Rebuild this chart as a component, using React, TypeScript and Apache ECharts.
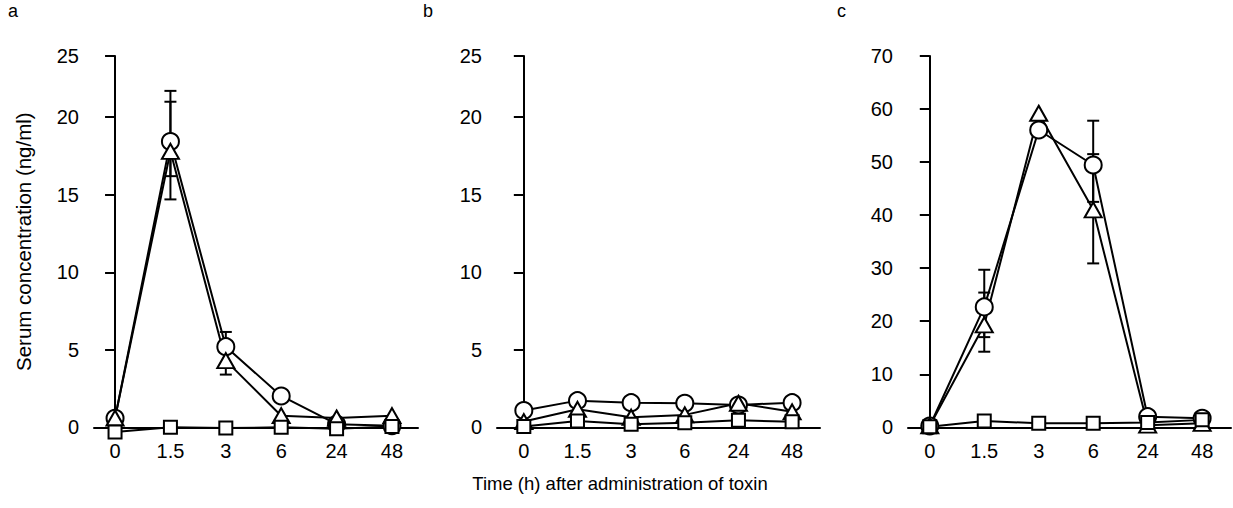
import React, { useEffect, useRef } from 'react';
import * as echarts from 'echarts';

// time points (h)
const timeLabels = ['0', '1.5', '3', '6', '24', '48'];

// Panel a
const circleA = [0.58, 18.43, 5.2, 2.02, 0.2, 0.1];
const triangleA = [0.6, 17.8, 4.3, 0.75, 0.6, 0.75];
const squareA = [-0.3, 0, -0.05, 0, -0.1, 0.05];
// [time index, low, high]
const errBarsA = [[1, 14.7, 21.7], [1, 16.2, 21.0], [2, 3.4, 6.15]];

// Panel b
const circleB = [1.08, 1.72, 1.59, 1.55, 1.44, 1.59];
const triangleB = [0.37, 1.16, 0.65, 0.8, 1.55, 1.0];
const squareB = [0.05, 0.4, 0.2, 0.3, 0.45, 0.35];
const errBarsB: number[][] = [];

// Panel c
const circleC = [0.25, 22.7, 56.05, 49.45, 2.0, 1.7];
const triangleC = [0.3, 19.3, 59.2, 41.0, 0.4, 0.75];
const squareC = [0.1, 1.2, 0.75, 0.75, 0.9, 1.4];
const errBarsC = [[1, 14.25, 25.4], [1, 17.0, 29.7], [3, 30.9, 51.5], [3, 42.5, 57.8]];

const yTicksAB = [0, 5, 10, 15, 20, 25];
const yTicksC = [0, 10, 20, 30, 40, 50, 60, 70];

const panelLetters = ['a', 'b', 'c'];
const yAxisTitle = 'Serum concentration (ng/ml)';
const xAxisTitle = 'Time (h) after administration of toxin';

const FONT = "'Liberation Sans', Arial, sans-serif";
const FS_TICK = 20;
const FS_YNAME = 20.5;
const FS_XNAME = 18.5;
const FS_LETTER = 18;
const AB_TOP = 23.95; // the reference draws its "25" tick compressed at the top of the axis

export default function App() {
  const ref = useRef<HTMLDivElement>(null);
  useEffect(() => {
    if (!ref.current) return;
    const chart = echarts.init(ref.current, undefined, { renderer: 'svg' });

    const grids = [
      { left: 94, top: 56, width: 324, height: 371.3 },
      { left: 497, top: 56, width: 323, height: 371.3 },
      { left: 908, top: 56, width: 323, height: 371.3 },
    ];
    const xRanges = [
      [-0.38, 5.47],
      [-0.5, 5.52],
      [-0.4, 5.53],
    ];
    const idx = timeLabels.map((_, i) => i);

    const axisLineStyle = { color: '#000', width: 2 };
    const labelStyle = { color: '#000', fontSize: FS_TICK, fontFamily: FONT };

    const xAxes = grids.map((_, g) => ({
      type: 'value',
      gridIndex: g,
      min: xRanges[g][0],
      max: xRanges[g][1],
      axisLine: { show: true, onZero: false, lineStyle: axisLineStyle },
      axisTick: { show: false },
      splitLine: { show: false },
      axisLabel: {
        ...labelStyle,
        margin: 14,
        customValues: idx,
        formatter: (v: number) => timeLabels[Math.round(v)] ?? '',
      },
    }));

    const abTickPos = yTicksAB.map((t) => (t === 25 ? AB_TOP : t));
    const yAxes = grids.map((_, g) => {
      const isC = g === 2;
      const ticks = isC ? yTicksC : abTickPos;
      return {
        type: 'value',
        gridIndex: g,
        min: 0,
        max: isC ? 70 : AB_TOP,
        name: g === 0 ? yAxisTitle : '',
        nameLocation: 'middle',
        nameGap: 60,
        nameRotate: 90,
        nameTextStyle: { color: '#000', fontSize: FS_YNAME, fontFamily: FONT },
        axisLine: { show: true, lineStyle: axisLineStyle },
        axisTick: { show: true, length: 10, lineStyle: axisLineStyle, customValues: ticks },
        splitLine: { show: false },
        axisLabel: {
          ...labelStyle,
          margin: 15,
          customValues: ticks,
          formatter: (v: number) => (!isC && v > 22 ? '25' : String(v)),
        },
      };
    });

    const panels = [
      { circle: circleA, triangle: triangleA, square: squareA, err: errBarsA },
      { circle: circleB, triangle: triangleB, square: squareB, err: errBarsB },
      { circle: circleC, triangle: triangleC, square: squareC, err: errBarsC },
    ];

    const mk = (g: number, vals: number[], symbol: string, size: any) => ({
      type: 'line',
      xAxisIndex: g,
      yAxisIndex: g,
      data: vals.map((v, i) => [i, v]),
      symbol,
      symbolSize: size,
      showSymbol: true,
      clip: false,
      z: 3,
      lineStyle: { color: '#000', width: 2 },
      itemStyle: { color: '#fff', borderColor: '#000', borderWidth: 2 },
      emphasis: { disabled: true },
    });

    const series: any[] = [];
    panels.forEach((p, g) => {
      series.push({
        type: 'custom',
        xAxisIndex: g,
        yAxisIndex: g,
        z: 1,
        clip: false,
        data: p.err,
        encode: { x: 0, y: [1, 2] },
        renderItem: (params: any, api: any) => {
          const x = api.value(0);
          const lo = api.coord([x, api.value(1)]);
          const hi = api.coord([x, api.value(2)]);
          const h = 6;
          const st = { stroke: '#000', lineWidth: 2 };
          return {
            type: 'group',
            children: [
              { type: 'line', shape: { x1: lo[0], y1: lo[1], x2: hi[0], y2: hi[1] }, style: st },
              { type: 'line', shape: { x1: lo[0] - h, y1: lo[1], x2: lo[0] + h, y2: lo[1] }, style: st },
              { type: 'line', shape: { x1: hi[0] - h, y1: hi[1], x2: hi[0] + h, y2: hi[1] }, style: st },
            ],
          };
        },
      });
      series.push(mk(g, p.circle, 'circle', 17));
      series.push(mk(g, p.triangle, 'triangle', [17, 15]));
      series.push(mk(g, p.square, 'rect', 13));
    });

    const letterX = [8, 423, 837];
    const graphic: any[] = panelLetters.map((l, i) => ({
      type: 'text',
      left: letterX[i],
      top: 2,
      style: { text: l, fill: '#000', font: `${FS_LETTER}px ${FONT}` },
    }));
    graphic.push({
      type: 'text',
      x: 620,
      y: 483,
      style: {
        text: xAxisTitle,
        fill: '#000',
        font: `${FS_XNAME}px ${FONT}`,
        textAlign: 'center',
        textVerticalAlign: 'middle',
      },
    });

    chart.setOption({
      animation: false,
      backgroundColor: '#fff',
      grid: grids,
      xAxis: xAxes,
      yAxis: yAxes,
      series,
      graphic,
    });
    return () => chart.dispose();
  }, []);
  return (
    <div
      ref={ref}
      style={{ position: 'fixed', left: 0, top: 0, width: 1233, height: 508, background: '#fff' }}
    />
  );
}
